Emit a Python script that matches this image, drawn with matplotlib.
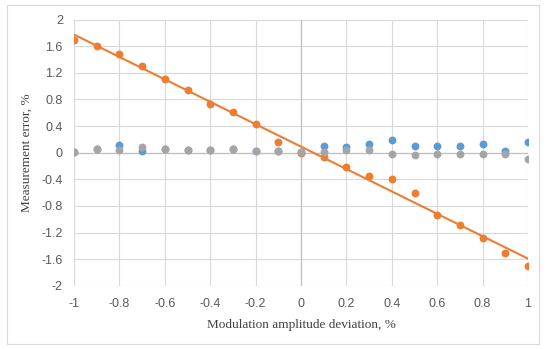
import matplotlib
matplotlib.use("Agg")
import matplotlib.pyplot as plt
import numpy as np
from matplotlib.patches import Rectangle

x = [-1, -0.9, -0.8, -0.7, -0.6, -0.5, -0.4, -0.3, -0.2, -0.1, 0,
     0.1, 0.2, 0.3, 0.4, 0.5, 0.6, 0.7, 0.8, 0.9, 1]
blue = [0.01, 0.06, 0.11, 0.025, 0.06, 0.045, 0.045, 0.05, 0.02, 0.02, 0.01,
        0.10, 0.085, 0.13, 0.185, 0.10, 0.10, 0.10, 0.13, 0.02, 0.165]
orange = [1.70, 1.60, 1.48, 1.31, 1.11, 0.94, 0.73, 0.61, 0.43, 0.16, 0.0,
          -0.065, -0.22, -0.35, -0.40, -0.60, -0.93, -1.08, -1.29, -1.51, -1.70]
grey = [0.01, 0.06, 0.045, 0.09, 0.06, 0.045, 0.045, 0.05, 0.03, 0.03, 0.01,
        0.015, 0.035, 0.04, -0.025, -0.03, -0.015, -0.02, -0.02, -0.02, -0.095]
xticks = [-1, -0.8, -0.6, -0.4, -0.2, 0, 0.2, 0.4, 0.6, 0.8, 1]
yticks = [-2, -1.6, -1.2, -0.8, -0.4, 0, 0.4, 0.8, 1.2, 1.6, 2]

W, H = 550, 349
fig = plt.figure(figsize=(5.5, 3.49), dpi=100)
L, R, T, B = 74, 528, 19.7, 285.7
ax = fig.add_axes([L / W, 1 - B / H, (R - L) / W, (B - T) / H])

# outer border
fig.patches.append(Rectangle((7 / W, 1 - 344 / H), (539 - 7) / W, (344 - 5) / H,
                             transform=fig.transFigure, fill=False,
                             edgecolor="#d9d9d9", linewidth=0.8))

ax.set_xlim(-1, 1)
ax.set_ylim(-2, 2)
ax.set_xticks(xticks)
ax.set_yticks(yticks)
ax.set_xticklabels(["%g" % v for v in xticks])
ax.set_yticklabels(["%g" % v for v in yticks])
ax.grid(True, color="#d9d9d9", linewidth=0.8)
ax.set_axisbelow(True)
for s in ax.spines.values():
    s.set_visible(False)
ax.tick_params(length=0, labelsize=9, labelcolor="#595959", pad=8)
ax.tick_params(axis="x", pad=9)
for lab in ax.get_xticklabels() + ax.get_yticklabels():
    lab.set_fontfamily("Liberation Sans")
ax.axhline(0, color="#bfbfbf", linewidth=0.9, zorder=1)
ax.axvline(0, color="#bfbfbf", linewidth=0.9, zorder=1)

ms = 32
ax.scatter(x, blue, s=ms, color="#5B9BD5", zorder=3, linewidths=0)
ax.scatter(x, orange, s=ms, color="#ED7D31", zorder=4, linewidths=0)
ax.scatter(x, grey, s=ms, color="#A5A5A5", zorder=5, linewidths=0)

k, b0 = np.polyfit(x, orange, 1)
xl = np.array([x[0], x[-1]])
ax.plot(xl, k * xl + b0, color="#ED7D31", linewidth=1.5, zorder=4)

ax.set_xlabel("Modulation amplitude deviation, %", fontfamily="Liberation Serif",
              fontsize=9.5, color="#404040", labelpad=6)
ax.set_ylabel("Measurement error, %", fontfamily="Liberation Serif",
              fontsize=9.5, color="#404040", labelpad=6)

fig.savefig("out.png", dpi=100)
